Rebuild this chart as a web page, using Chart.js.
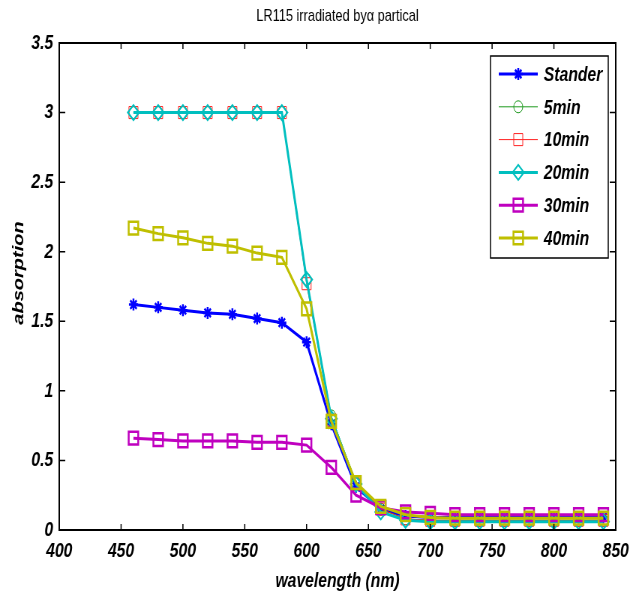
<!DOCTYPE html>
<html><head><meta charset="utf-8">
<script src="https://cdn.jsdelivr.net/npm/chart.js@4.4.0/dist/chart.umd.min.js"></script>
<style>
html,body{margin:0;padding:0;background:#fff;overflow:hidden;width:632px;height:595px}
#wrap{width:632px;height:595px;overflow:hidden;position:relative;background:#fff}
#c{position:absolute;left:0;top:0;transform:scaleX(0.75);transform-origin:0 0}
</style></head><body>
<div id="wrap"><canvas id="c" width="843" height="595"></canvas></div>
<script>
// ---- data ----
const wavelengths = [460,480,500,520,540,560,580,600,620,640,660,680,700,720,740,760,780,800,820,840];
const stander = [1.62,1.60,1.58,1.56,1.55,1.52,1.49,1.35,0.76,0.31,0.15,0.10,0.09,0.09,0.09,0.09,0.09,0.09,0.09,0.09];
const min5    = [3.00,3.00,3.00,3.00,3.00,3.00,3.00,1.80,0.82,0.34,0.15,0.08,0.07,0.07,0.07,0.07,0.07,0.07,0.07,0.07];
const min10   = [3.00,3.00,3.00,3.00,3.00,3.00,3.00,1.77,0.79,0.33,0.15,0.08,0.07,0.07,0.07,0.07,0.07,0.07,0.07,0.07];
const min20   = [3.00,3.00,3.00,3.00,3.00,3.00,3.00,1.80,0.80,0.33,0.13,0.07,0.06,0.06,0.06,0.06,0.06,0.06,0.06,0.06];
const min30   = [0.66,0.65,0.64,0.64,0.64,0.63,0.63,0.61,0.45,0.25,0.16,0.13,0.12,0.11,0.11,0.11,0.11,0.11,0.11,0.11];
const min40   = [2.17,2.13,2.10,2.06,2.04,1.99,1.96,1.59,0.78,0.34,0.17,0.11,0.09,0.085,0.085,0.085,0.085,0.085,0.085,0.085];
const seriesLabels = ['Stander','5min','10min','20min','30min','40min'];
const xTickValues = [400,450,500,550,600,650,700,750,800,850];
const xTickLabels = ['400','450','500','550','600','650','700','750','800','850'];
const yTickValues = [0,0.5,1,1.5,2,2.5,3,3.5];
const yTickLabels = ['0','0.5','1','1.5','2','2.5','3','3.5'];
const titleText = 'LR115 irradiated by\u03b1 partical';
const xTitle = 'wavelength (nm)';
const yTitle = 'absorption';

// ---- styles ----
const FONT = '"Liberation Sans", Arial, Helvetica, sans-serif';
const seriesValues = [stander, min5, min10, min20, min30, min40];
const styles = [
  {color:'#0000ff', width:3, point:'star',    r:6,   pw:2.5},
  {color:'#1f9a1f', width:1, point:'circle',  r:6,   pw:1},
  {color:'#ff2020', width:1, point:'rect',    r:8.5, pw:1},
  {color:'#00bfbf', width:3, point:'rectRot', r:7.5, pw:2},
  {color:'#bf00bf', width:3, point:'rect',    r:9,   pw:2.5},
  {color:'#bfbf00', width:3, point:'rect',    r:9,   pw:2.5}
];

const datasets = seriesLabels.map((lab, i) => ({
  label: lab,
  data: wavelengths.map((w, k) => ({x: w, y: seriesValues[i][k]})),
  borderColor: styles[i].color,
  borderWidth: styles[i].width,
  pointStyle: styles[i].point,
  pointRadius: styles[i].r,
  pointBorderColor: styles[i].color,
  pointBackgroundColor: 'rgba(0,0,0,0)',
  pointBorderWidth: styles[i].pw,
  tension: 0,
  fill: false,
  order: seriesLabels.length - i
}));

function drawMarker(ctx, style, x, y, r, color, lw) {
  ctx.save();
  ctx.strokeStyle = color; ctx.lineWidth = lw;
  ctx.beginPath();
  if (style === 'circle') {
    ctx.arc(x, y, r, 0, Math.PI * 2);
  } else if (style === 'rect') {
    const s = r * Math.SQRT1_2;
    ctx.rect(x - s, y - s, 2 * s, 2 * s);
  } else if (style === 'rectRot') {
    ctx.moveTo(x - r, y); ctx.lineTo(x, y - r); ctx.lineTo(x + r, y); ctx.lineTo(x, y + r); ctx.closePath();
  } else if (style === 'star') {
    ctx.moveTo(x, y - r); ctx.lineTo(x, y + r);
    ctx.moveTo(x - r, y); ctx.lineTo(x + r, y);
    const d = r * Math.SQRT1_2;
    ctx.moveTo(x - d, y - d); ctx.lineTo(x + d, y + d);
    ctx.moveTo(x - d, y + d); ctx.lineTo(x + d, y - d);
  }
  ctx.stroke();
  ctx.restore();
}

const framePlugin = {
  id: 'frame',
  afterDraw(chart) {
    const {ctx, chartArea: a, scales: {x, y}} = chart;
    ctx.save();
    // box
    ctx.strokeStyle = '#000'; ctx.lineWidth = 2;
    ctx.strokeRect(a.left, a.top, a.right - a.left, a.bottom - a.top);
    // inward ticks
    ctx.lineWidth = 1.5;
    ctx.beginPath();
    x.ticks.forEach(t => {
      const px = x.getPixelForValue(t.value);
      ctx.moveTo(px, a.bottom); ctx.lineTo(px, a.bottom - 6);
      ctx.moveTo(px, a.top); ctx.lineTo(px, a.top + 6);
    });
    y.ticks.forEach(t => {
      const py = y.getPixelForValue(t.value);
      ctx.moveTo(a.left, py); ctx.lineTo(a.left + 8, py);
      ctx.moveTo(a.right, py); ctx.lineTo(a.right - 8, py);
    });
    ctx.stroke();

    // title
    ctx.fillStyle = '#000';
    ctx.textAlign = 'center'; ctx.textBaseline = 'alphabetic';
    ctx.font = '17px ' + FONT;
    ctx.fillText(titleText, (a.left + a.right) / 2, 21);
    // axis titles
    ctx.font = 'italic bold 21px ' + FONT;
    ctx.fillText(xTitle, (a.left + a.right) / 2, 587);
    ctx.save();
    ctx.translate(31, 273);
    ctx.rotate(-Math.PI / 2);
    ctx.font = 'italic bold 20px ' + FONT;
    ctx.fillText(yTitle, 0, 0);
    ctx.restore();

    // legend
    const L = 654, R = 811, T = 56, B = 258;
    ctx.fillStyle = '#fff';
    ctx.fillRect(L, T, R - L, B - T);
    ctx.strokeStyle = '#000'; ctx.lineWidth = 1.5;
    ctx.strokeRect(L, T, R - L, B - T);
    ctx.font = 'italic bold 21px ' + FONT;
    ctx.textAlign = 'left'; ctx.textBaseline = 'middle';
    chart.data.datasets.forEach((ds, i) => {
      const yy = 74 + i * 32.8;
      ctx.strokeStyle = ds.borderColor; ctx.lineWidth = ds.borderWidth;
      ctx.beginPath(); ctx.moveTo(665, yy); ctx.lineTo(717, yy); ctx.stroke();
      drawMarker(ctx, ds.pointStyle, 691, yy, ds.pointRadius, ds.pointBorderColor, ds.pointBorderWidth);
      ctx.fillStyle = '#000';
      ctx.fillText(ds.label, 725, yy + 1);
    });
    ctx.restore();
  }
};

const tickFont = {family: FONT, size: 21, style: 'italic', weight: 'bold'};

new Chart(document.getElementById('c'), {
  type: 'line',
  data: {datasets},
  options: {
    responsive: false,
    animation: false,
    layout: {padding: {left: 0, top: 43, right: 22, bottom: 0}},
    plugins: {legend: {display: false}, title: {display: false}, tooltip: {enabled: false}},
    scales: {
      x: {
        type: 'linear', min: 400, max: 850,
        afterBuildTicks: s => { s.ticks = xTickValues.map(v => ({value: v})); },
        afterFit: s => { s.height = 65; s.paddingLeft = 0; s.paddingRight = 0; },
        grid: {display: false, drawTicks: false},
        border: {display: false},
        ticks: {padding: 9, color: '#000', font: tickFont, maxRotation: 0, autoSkip: false,
                callback: (v, i) => xTickLabels[i]}
      },
      y: {
        type: 'linear', min: 0, max: 3.5,
        afterBuildTicks: s => { s.ticks = yTickValues.map(v => ({value: v})); },
        afterFit: s => { s.width = 79; s.paddingTop = 0; s.paddingBottom = 0; },
        grid: {display: false, drawTicks: false},
        border: {display: false},
        ticks: {padding: 8, color: '#000', font: tickFont, autoSkip: false,
                callback: (v, i) => yTickLabels[i]}
      }
    }
  },
  plugins: [framePlugin]
});
</script>
</body></html>
